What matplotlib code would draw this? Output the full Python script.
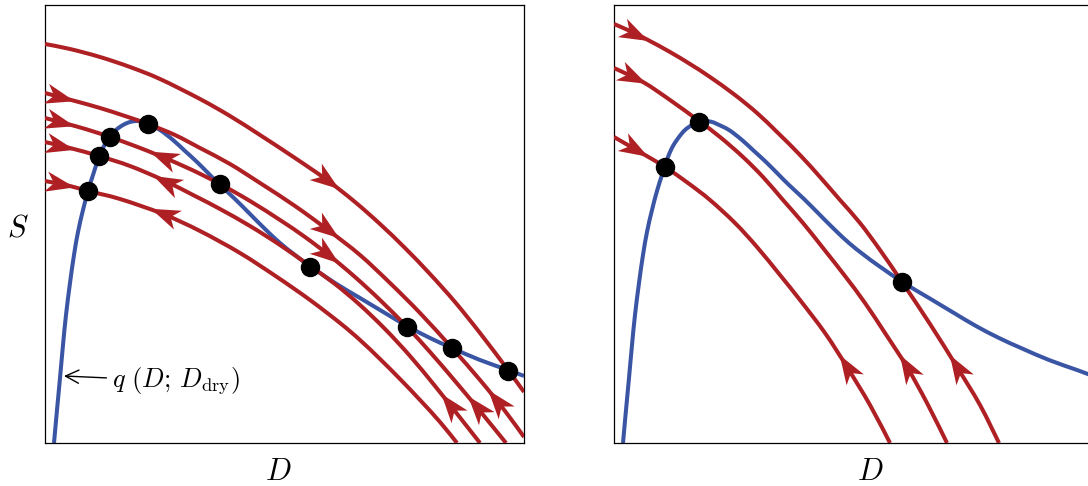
import numpy as np
import matplotlib
matplotlib.use('Agg')
import matplotlib.pyplot as plt
from matplotlib.path import Path
from matplotlib.patches import PathPatch
from matplotlib.markers import MarkerStyle
from matplotlib.transforms import Affine2D

plt.rcParams['mathtext.fontset'] = 'cm'

RED = '#ae2024'
BLUE = '#3b55a5'

# equilibrium curve q(D; D_dry), same in both panels
q_D = [9, 12, 15, 18, 21, 25, 29, 33, 38, 43, 48, 54, 59, 65, 71, 78, 85, 92, 98, 103,
       115, 128, 140, 152, 165, 175, 190, 205, 220, 235, 250, 265, 290, 315, 340, 362,
       385, 407, 435, 463, 479]
q_S = [0, 33, 65, 98, 128, 160, 188, 211, 233, 252, 268, 286, 297, 306, 313, 318, 321, 322, 321, 319,
       313, 303, 292, 281, 268, 258, 244, 229, 214, 200, 188, 177, 160, 145, 130, 117,
       105, 95, 83, 73, 67]

# left panel trajectories
left_curves = [
    ([0, 25, 55, 85, 115, 155, 185, 215, 250, 282, 310, 335, 360, 385, 410, 435, 463, 479],
     [399, 394, 386, 376, 364, 344, 327, 308, 285, 263, 241, 219, 195, 169, 141, 110, 73, 51]),
    ([0, 30, 55, 80, 103, 130, 155, 185, 215, 250, 283, 315, 345, 375, 407, 435, 460, 479],
     [350, 342, 335, 327, 319, 308, 295, 279, 260, 237, 213, 188, 160, 130, 95, 63, 32, 6]),
    ([0, 30, 50, 65, 90, 115, 145, 175, 205, 235, 260, 285, 310, 335, 362, 385, 410, 435, 461],
     [325, 317, 311, 306, 297, 287, 274, 259, 242, 223, 206, 187, 166, 143, 116, 91, 62, 32, 0]),
    ([0, 25, 54, 85, 118, 150, 175, 205, 235, 265, 290, 315, 340, 365, 390, 413, 435],
     [301, 295, 287, 277, 263, 247, 234, 217, 198, 177, 159, 138, 114, 87, 57, 28, 0]),
    ([0, 25, 43, 75, 118, 155, 195, 232, 265, 295, 315, 335, 355, 375, 395, 412],
     [262, 257, 252, 244, 229, 212, 190, 166, 143, 120, 103, 84, 64, 43, 21, 0]),
]
# (curve index, D position, direction +1 = towards larger D)
left_arrows = [(0, 282, 1),
               (1, 15, 1), (1, 282, 1), (1, 452, -1),
               (2, 15, 1), (2, 118, -1), (2, 282, 1), (2, 432, -1),
               (3, 15, 1), (3, 121, -1), (3, 405, -1),
               (4, 15, 1), (4, 119, -1)]
left_dots_D = [43, 54, 65, 103, 175, 265, 362, 407, 463]
left_dots_S = [252, 287, 306, 319, 259, 176, 116, 95, 72]

# right panel trajectories
right_curves = [
    ([0, 16, 34, 56, 76, 96, 121, 143, 163, 186, 206, 226, 246, 266, 288, 316, 343, 366, 385],
     [419, 412, 403, 391, 379, 366, 348, 330, 311, 288, 266, 243, 220, 193, 161, 119, 76, 38, 0]),
    ([0, 29, 56, 85, 106, 129, 149, 169, 189, 209, 231, 251, 271, 293, 313, 333],
     [375, 361, 343, 322, 306, 286, 266, 243, 220, 195, 167, 140, 110, 76, 40, 0]),
    ([0, 31, 51, 74, 96, 121, 143, 166, 186, 211, 233, 256, 276],
     [306, 288, 276, 260, 243, 220, 196, 168, 143, 110, 76, 38, 0]),
]
right_arrows = [(0, 21, 1), (0, 343, -1),
                (1, 19, 1), (1, 293, -1),
                (2, 21, 1), (2, 233, -1)]
right_dots_D = [51, 85, 288]
right_dots_S = [276, 321, 161]

# stealth-like arrow head, pointing along +x
head = Path([(1, 0), (-1, 0.7), (-0.45, 0), (-1, -0.7), (1, 0)],
            [Path.MOVETO, Path.LINETO, Path.LINETO, Path.LINETO, Path.CLOSEPOLY])


def smooth_path(xs, ys):
    # Catmull-Rom curve through the read points, written as cubic Bezier segments
    p = np.column_stack([xs, ys]).astype(float)
    p = np.vstack([p[0], p, p[-1]])
    verts = [p[1]]
    codes = [Path.MOVETO]
    for i in range(1, len(p) - 2):
        c1 = p[i] + (p[i + 1] - p[i - 1]) / 6
        c2 = p[i + 1] - (p[i + 2] - p[i]) / 6
        verts += [c1, c2, p[i + 1]]
        codes += [Path.CURVE4] * 3
    return Path(verts, codes)


def draw_line(ax, xs, ys, color, z):
    patch = PathPatch(smooth_path(xs, ys), fill=False, edgecolor=color, lw=2.9,
                      capstyle='butt', joinstyle='round', zorder=z)
    ax.add_patch(patch)


def draw_panel(ax, curves, arrows, dots_D, dots_S):
    ax.set_xlim(0, 479)
    ax.set_ylim(0, 438)
    ax.set_xticks([])
    ax.set_yticks([])
    for sp in ax.spines.values():
        sp.set_linewidth(0.9)
    draw_line(ax, q_D, q_S, BLUE, 2)
    for d, s in curves:
        draw_line(ax, d, s, RED, 3)
    for i, x, sgn in arrows:
        d, s = curves[i]
        y = np.interp(x, d, s)
        p0 = ax.transData.transform((x - 3, np.interp(x - 3, d, s)))
        p1 = ax.transData.transform((x + 3, np.interp(x + 3, d, s)))
        ang = np.degrees(np.arctan2((p1[1] - p0[1]) * sgn, (p1[0] - p0[0]) * sgn))
        m = MarkerStyle(head, transform=Affine2D().rotate_deg(ang))
        ax.plot([x], [y], marker=m, ms=21, color=RED, mew=0, zorder=4)
    ax.plot(dots_D, dots_S, 'o', color='k', ms=13, zorder=5)


fig = plt.figure(figsize=(10.88, 4.86), dpi=100)
ax1 = fig.add_axes([45 / 1088, 43 / 486, 479 / 1088, 438 / 486])
ax2 = fig.add_axes([614 / 1088, 43 / 486, 479 / 1088, 438 / 486])

draw_panel(ax1, left_curves, left_arrows, left_dots_D, left_dots_S)
draw_panel(ax2, right_curves, right_arrows, right_dots_D, right_dots_S)

ax1.set_ylabel('$S$', rotation=0, fontsize=22, va='center')
ax1.yaxis.set_label_coords(-0.056, 0.49)
ax1.set_xlabel('$D$', fontsize=22)
ax1.xaxis.set_label_coords(0.486, -0.032)
ax2.set_xlabel('$D$', fontsize=22)
ax2.xaxis.set_label_coords(0.534, -0.032)

ax1.annotate(r'$q\ (D;\,D_{\mathrm{dry}})$', xy=(19, 67), xytext=(67, 62),
             fontsize=19, va='center', ha='left',
             arrowprops=dict(arrowstyle='->,head_length=0.5,head_width=0.25', color='k',
                             lw=1.0, shrinkA=2, shrinkB=0))

fig.savefig('out.png', dpi=100)
